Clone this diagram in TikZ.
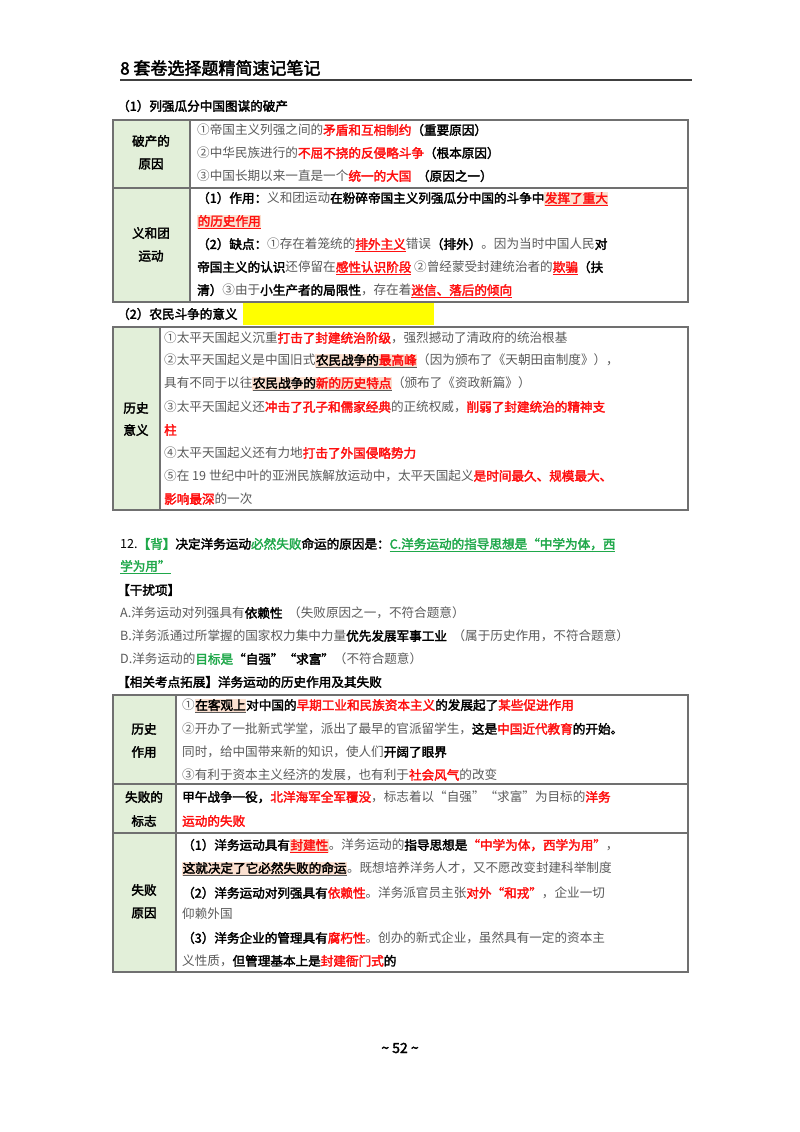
\documentclass[tikz,border=0pt]{standalone}
\usepackage{fontspec}
\setmainfont{Noto Sans CJK SC}[AutoFakeBold=2.5]
\definecolor{txtgray}{HTML}{5A5A5A}
\definecolor{lblg}{HTML}{E2EFD9}
\definecolor{bdr}{HTML}{707070}
\definecolor{hlc}{HTML}{FBE0D0}
\definecolor{grn}{HTML}{1FA84A}
\definecolor{redc}{HTML}{FF1010}
\definecolor{yel}{HTML}{FFFF00}
\newcommand{\fs}{\fontsize{12.6}{14}\selectfont}
\newcommand{\R}[1]{{\bfseries\color{redc}#1}}
\newcommand{\B}[1]{{\bfseries\color{black}#1}}
\newcommand{\G}[1]{{\bfseries\color{grn}#1}}
\newcommand{\HL}[1]{{\setlength\fboxsep{0.5pt}\colorbox{hlc}{\underline{#1}}}}
\tikzset{
  t/.style={anchor=west,inner sep=0pt,font=\fs,text=txtgray},
  lbl/.style={anchor=center,inner sep=0pt,font=\fs\bfseries,text=black},
  tbl/.style={draw=bdr,line width=1.1pt}
}
\begin{document}
\begin{tikzpicture}[x=1pt,y=-1pt]
\useasboundingbox (0,0) rectangle (800,1132);
\fill[white] (0,0) rectangle (800,1132);
% header
\node[anchor=west,inner sep=0pt,font=\fontsize{17}{19}\selectfont\bfseries] (hd) at (120,68) {8 套卷选择题精简速记笔记};
\draw[line width=1.6pt,black!75] (120,80) -- (692,80);
\node[t,font=\fs\bfseries,text=black] (s1) at (117,106) {（1）列强瓜分中国图谋的破产};
% table 1
\fill[lblg] (113,120) rectangle (190,302);
\draw[tbl] (113,120) rectangle (688,302);
\draw[tbl] (190,120) -- (190,302);
\draw[tbl] (113,188) -- (688,188);
\node[lbl] (a1) at (151,141) {破产的};
\node[lbl] (a2) at (151,164) {原因};
\node[lbl] (a3) at (151,233) {义和团};
\node[lbl] (a4) at (151,256) {运动};
\node[t] (b1) at (197,130) {①帝国主义列强之间的\R{矛盾和互相制约}\B{（重要原因）}};
\node[t] (b2) at (197,153) {②中华民族进行的\R{不屈不挠的反侵略斗争}\B{（根本原因）}};
\node[t] (b3) at (197,176) {③中国长期以来一直是一个\R{统一的大国}\ \ \B{（原因之一）}};
\node[t] (b4) at (197,199) {\B{（1）作用：}义和团运动\B{在粉碎帝国主义列强瓜分中国的斗争中}\R{\HL{发挥了重大}}};
\node[t] (b5) at (197,222) {\R{\HL{的历史作用}}};
\node[t] (b6) at (197,245) {\B{（2）缺点：}①存在着笼统的\R{\underline{排外主义}}错误\B{（排外）}。因为当时中国人民\B{对}};
\node[t] (b7) at (197,268) {\B{帝国主义的认识}还停留在\R{\underline{感性认识阶段}}\ ②曾经蒙受封建统治者的\R{\underline{欺骗}}\B{（扶}};
\node[t] (b8) at (197,291) {\B{清）}③由于\B{小生产者的局限性}，存在着\R{\underline{迷信、落后的倾向}}};
% section 2
\node[t,font=\fs\bfseries,text=black] (s2) at (117,314) {（2）农民斗争的意义};
\fill[yel] (243,303) rectangle (434,325);
% table 2
\fill[lblg] (113,327) rectangle (160,510);
\draw[tbl] (113,327) rectangle (688,510);
\draw[tbl] (160,327) -- (160,510);
\node[lbl] (c1) at (136,408) {历史};
\node[lbl] (c2) at (136,430) {意义};
\node[t] (d1) at (164,338) {①太平天国起义沉重\R{打击了封建统治阶级}，强烈撼动了清政府的统治根基};
\node[t] (d2) at (164,361) {②太平天国起义是中国旧式\HL{\B{农民战争的}\R{最高峰}}（因为颁布了《天朝田亩制度》），};
\node[t] (d3) at (164,384) {具有不同于以往\HL{\B{农民战争的}\R{新的历史特点}}（颁布了《资政新篇》）};
\node[t] (d4) at (164,407) {③太平天国起义还\R{冲击了孔子和儒家经典}的正统权威，\R{削弱了封建统治的精神支}};
\node[t] (d5) at (164,430) {\R{柱}};
\node[t] (d6) at (164,453) {④太平天国起义还有力地\R{打击了外国侵略势力}};
\node[t] (d7) at (164,476) {⑤在 19 世纪中叶的亚洲民族解放运动中，太平天国起义\R{是时间最久、规模最大、}};
\node[t] (d8) at (164,499) {\R{影响最深}的一次};
% question 12
\node[t,text=black] (q1) at (120,545) {12.\G{【背】}\B{决定洋务运动}\G{必然失败}\B{命运的原因是：}\G{\underline{C.洋务运动的指导思想是“中学为体，西}}};
\node[t] (q2) at (120,567) {\G{\underline{学为用”}}};
\node[t] (q3) at (117,590) {\B{【干扰项】}};
\node[t] (q4) at (120,613) {A.洋务运动对列强具有\B{依赖性}\ \ （失败原因之一，不符合题意）};
\node[t] (q5) at (120,636) {B.洋务派通过所掌握的国家权力集中力量\B{优先发展军事工业}\ \ （属于历史作用，不符合题意）};
\node[t] (q6) at (120,659) {D.洋务运动的\G{目标是}\B{“自强”“求富”}（不符合题意）};
\node[t] (q7) at (117,682) {\B{【相关考点拓展】洋务运动的历史作用及其失败}};
% table 3
\fill[lblg] (113,695) rectangle (176,972);
\draw[tbl] (113,695) rectangle (688,972);
\draw[tbl] (176,695) -- (176,972);
\draw[tbl] (113,784) -- (688,784);
\draw[tbl] (113,833) -- (688,833);
\node[lbl] (e1) at (144,729) {历史};
\node[lbl] (e2) at (144,752) {作用};
\node[lbl] (e3) at (144,797) {失败的};
\node[lbl] (e4) at (144,821) {标志};
\node[lbl] (e5) at (144,890) {失败};
\node[lbl] (e6) at (144,913) {原因};
\node[t] (f1) at (182,706) {①\HL{\B{在客观上}}\B{对中国的}\R{早期工业和民族资本主义}\B{的发展起了}\R{某些促进作用}};
\node[t] (f2) at (182,729) {②开办了一批新式学堂，派出了最早的官派留学生，\B{这是}\R{中国近代教育}\B{的开始。}};
\node[t] (f3) at (182,752) {同时，给中国带来新的知识，使人们\B{开阔了眼界}};
\node[t] (f4) at (182,775) {③有利于资本主义经济的发展，也有利于\R{社会风气}的改变};
\node[t] (f5) at (182,797) {\B{甲午战争一役，}\R{北洋海军全军覆没}，标志着以“自强”“求富”为目标的\R{洋务}};
\node[t] (f6) at (182,821) {\R{运动的失败}};
\node[t] (f7) at (182,846) {\B{（1）洋务运动具有}\R{\HL{封建性}}。洋务运动的\B{指导思想是}\R{“中学为体，西学为用”}，};
\node[t] (f8) at (182,869) {\HL{\B{这就决定了它必然失败的命运}}。既想培养洋务人才，又不愿改变封建科举制度};
\node[t] (f9) at (182,893) {\B{（2）洋务运动对列强具有}\R{依赖性}。洋务派官员主张\R{对外“和戎”}，企业一切};
\node[t] (f10) at (182,914) {仰赖外国};
\node[t] (f11) at (182,938) {\B{（3）洋务企业的管理具有}\R{腐朽性}。创办的新式企业，虽然具有一定的资本主};
\node[t] (f12) at (182,961) {义性质，\B{但管理基本上是}\R{封建衙门式}\B{的}};
% page number
\node[anchor=center,inner sep=0pt,font=\fontsize{14}{16}\selectfont\bfseries] (pg) at (400,1048) {\textasciitilde\ 52 \textasciitilde};
\end{tikzpicture}
\end{document}
